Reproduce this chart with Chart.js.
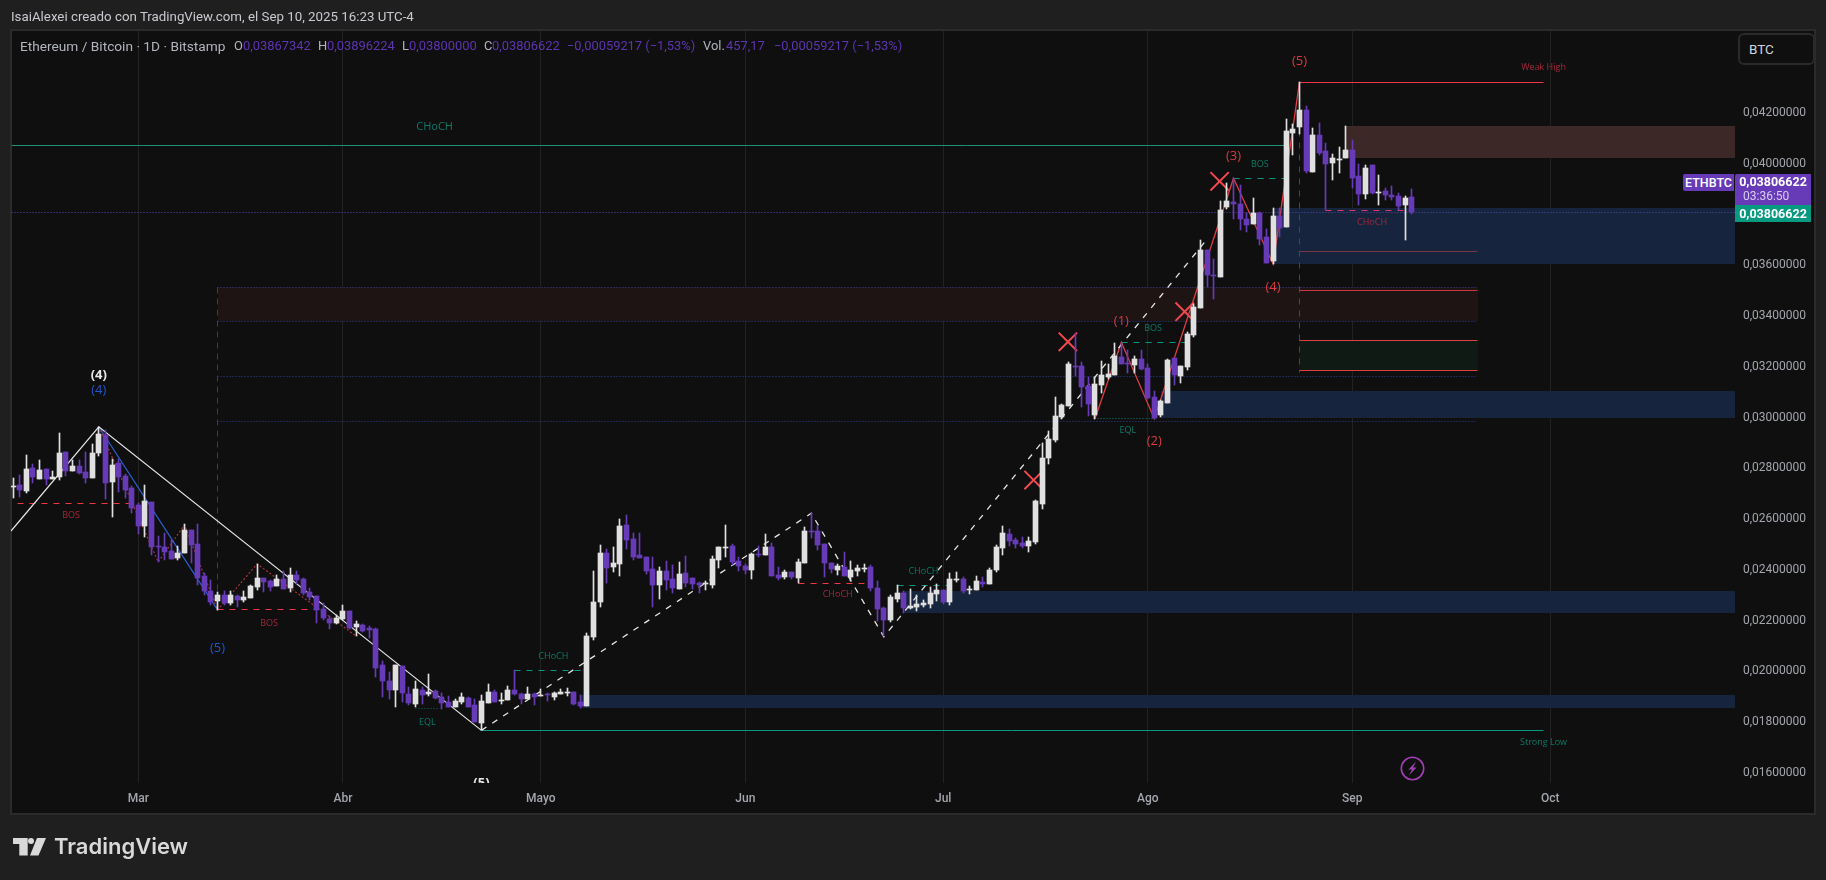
<!doctype html>
<html>
<head>
<meta charset="utf-8">
<title>ETHBTC</title>
<script src="https://cdn.jsdelivr.net/npm/chart.js@4/dist/chart.umd.min.js"></script>
<style>
  html,body{ margin:0; padding:0; width:1826px; height:880px; overflow:hidden; background:#1f1f1f; font-family:"Open Sans",sans-serif }
  #frame{ position:absolute; left:10px; top:29px; width:1802px; height:782px; background:#0f0f0f; border:2px solid #2b2b2b }
  #chartWrap{ position:absolute; left:0; top:0; width:1826px; height:880px }
  .t{ position:absolute; white-space:nowrap; line-height:1 }
  .lg{ top:40px; font-size:12.9px; color:#b2b5be; font-family:"Roboto",sans-serif }
  .v{ color:#5e35b1 }
  .tag{ position:absolute; color:#fff; font-family:"Roboto",sans-serif; font-size:12.5px; font-weight:700; text-align:center }
  #btc{ position:absolute; left:1738px; top:33px; width:73px; height:28px; background:#0f0f0f; border:2px solid #2a2a2a; border-radius:6px;
        color:#d1d4dc; font-size:13.5px; line-height:28px; text-indent:9px; font-family:"Roboto",sans-serif }
</style>
</head>
<body>
<div id="frame"></div>
<div id="chartWrap"><canvas id="chart" width="1826" height="880"></canvas></div>

<div class="t" style="left:11px;top:10px;font-size:13.3px;color:#c8cad0;font-family:Roboto,sans-serif">IsaiAlexei creado con TradingView.com, el Sep 10, 2025 16:23 UTC-4</div>

<div class="t lg" style="left:20px;font-size:13.7px">Ethereum / Bitcoin · 1D · Bitstamp</div>
<div class="t lg" style="left:234px">O</div><div class="t lg v" style="left:243px">0,03867342</div>
<div class="t lg" style="left:318px">H</div><div class="t lg v" style="left:327px">0,03896224</div>
<div class="t lg" style="left:402px">L</div><div class="t lg v" style="left:409px">0,03800000</div>
<div class="t lg" style="left:484px">C</div><div class="t lg v" style="left:492px">0,03806622</div>
<div class="t lg v" style="left:567px">−0,00059217 (−1,53%)</div>
<div class="t lg" style="left:703px">Vol.</div><div class="t lg v" style="left:726px">457,17</div>
<div class="t lg v" style="left:774px">−0,00059217 (−1,53%)</div>

<div id="btc">BTC</div>

<div class="tag" style="left:1683px;top:174px;width:51px;height:17px;line-height:17px;background:#673ab7;border-radius:2px 0 0 2px;font-weight:500">ETHBTC</div>
<div class="tag" style="left:1735px;top:174px;width:76px;height:31px;background:#673ab7;border-radius:2px 0 0 0">
  <div style="line-height:15px">0,03806622</div>
  <div style="line-height:14px;font-weight:400;color:#d9cdf0;font-size:12px;text-align:left;padding-left:8px">03:36:50</div>
</div>
<div class="tag" style="left:1735px;top:205px;width:76px;height:17px;line-height:17px;background:#089981">0,03806622</div>

<svg style="position:absolute;left:1399px;top:755px" width="27" height="27" viewBox="0 0 27 27">
  <circle cx="13.5" cy="13.5" r="11.2" fill="none" stroke="#a13fb5" stroke-width="1.6"/>
  <path d="M17 6.5 L9.5 14.5 L13 14.5 L10 20.5 L17.5 12.5 L14 12.5 Z" fill="#a13fb5"/>
</svg>

<svg style="position:absolute;left:13px;top:838px" width="34" height="18" viewBox="0 0 34 18">
  <path d="M0 0 H14.7 V17.5 H6.3 V6 H0 Z" fill="#d9d9d9"/>
  <circle cx="18" cy="3" r="3" fill="#d9d9d9"/>
  <path d="M24 0 H33 L25.5 17.5 H17 Z" fill="#d9d9d9"/>
</svg>
<div class="t" style="left:54px;top:835px;font-family:Inter,sans-serif;font-size:22px;font-weight:600;color:#d9d9d9">TradingView</div>

<script>
/* ETHBTC daily candles with structure drawings.
   x axis is "days since Mar 1, 2025", candles start on day -19 */

const firstDay = -19;

const opens = [
  0.02724,0.02730,0.02708,0.02798,0.02754,0.02794,0.02754,0.02762,0.02861,0.02786,
  0.02805,0.02782,0.02758,0.02857,0.02928,0.02742,0.02817,0.02766,0.02719,0.02652,
  0.02569,0.02663,0.02490,0.02486,0.02470,0.02443,0.02462,0.02553,0.02498,0.02372,
  0.02313,0.02273,0.02297,0.02265,0.02293,0.02277,0.02285,0.02328,0.02364,0.02352,
  0.02332,0.02360,0.02324,0.02376,0.02360,0.02308,0.02293,0.02242,0.02202,0.02186,
  0.02202,0.02234,0.02170,0.02178,0.02167,0.02163,0.02021,0.01958,0.01922,0.02017,
  0.01906,0.01867,0.01922,0.01906,0.01918,0.01895,0.01875,0.01855,0.01875,0.01891,
  0.01863,0.01792,0.01871,0.01914,0.01879,0.01883,0.01922,0.01906,0.01887,0.01906,
  0.01900,0.01905,0.01895,0.01906,0.01910,0.01914,0.01875,0.01859,0.02131,0.02269,
  0.02462,0.02407,0.02419,0.02573,0.02518,0.02455,0.02447,0.02399,0.02336,0.02391,
  0.02360,0.02320,0.02384,0.02364,0.02344,0.02340,0.02336,0.02435,0.02482,0.02490,
  0.02431,0.02411,0.02395,0.02458,0.02455,0.02486,0.02376,0.02368,0.02388,0.02364,
  0.02423,0.02549,0.02549,0.02498,0.02423,0.02395,0.02407,0.02368,0.02391,0.02399,
  0.02407,0.02324,0.02246,0.02198,0.02281,0.02305,0.02246,0.02250,0.02257,0.02261,
  0.02301,0.02316,0.02269,0.02356,0.02360,0.02316,0.02316,0.02348,0.02340,0.02395,
  0.02482,0.02537,0.02514,0.02502,0.02490,0.02506,0.02656,0.02837,0.02908,0.02999,
  0.03042,0.03200,0.03200,0.03121,0.03006,0.03125,0.03156,0.03164,0.03235,0.03211,
  0.03204,0.03227,0.03192,0.03077,0.03006,0.03054,0.03231,0.03160,0.03196,0.03322,
  0.03428,0.03657,0.03559,0.03551,0.03827,0.03846,0.03838,0.03779,0.03760,0.03803,
  0.03708,0.03614,0.03791,0.03748,0.04118,0.04142,0.04209,0.03965,0.04111,0.04047,
  0.04000,0.04012,0.04020,0.04051,0.03949,0.03878,0.03992,0.03882,0.03890,0.03874,
  0.03870,0.03835,0.03867342
];
const highs = [
  0.02757,0.02770,0.02849,0.02813,0.02829,0.02794,0.02786,0.02934,0.02861,0.02829,
  0.02829,0.02861,0.02892,0.02960,0.02947,0.02833,0.02833,0.02774,0.02727,0.02658,
  0.02730,0.02663,0.02529,0.02541,0.02514,0.02490,0.02577,0.02553,0.02577,0.02382,
  0.02356,0.02307,0.02313,0.02313,0.02297,0.02313,0.02336,0.02419,0.02364,0.02356,
  0.02376,0.02391,0.02403,0.02391,0.02364,0.02324,0.02293,0.02264,0.02214,0.02218,
  0.02257,0.02234,0.02194,0.02182,0.02174,0.02167,0.02036,0.01993,0.02021,0.02017,
  0.01934,0.01958,0.01934,0.01985,0.01922,0.01910,0.01898,0.01887,0.01910,0.01895,
  0.01887,0.01902,0.01946,0.01922,0.01910,0.01938,0.02001,0.01910,0.01934,0.01910,
  0.01926,0.01910,0.01914,0.01926,0.01930,0.01914,0.01902,0.02147,0.02391,0.02494,
  0.02478,0.02486,0.02596,0.02612,0.02541,0.02541,0.02447,0.02447,0.02407,0.02431,
  0.02415,0.02427,0.02451,0.02364,0.02348,0.02352,0.02451,0.02486,0.02573,0.02498,
  0.02447,0.02419,0.02462,0.02490,0.02537,0.02502,0.02407,0.02395,0.02388,0.02439,
  0.02565,0.02620,0.02569,0.02498,0.02423,0.02419,0.02466,0.02431,0.02415,0.02419,
  0.02415,0.02352,0.02250,0.02297,0.02336,0.02313,0.02320,0.02297,0.02277,0.02328,
  0.02340,0.02316,0.02383,0.02387,0.02368,0.02332,0.02372,0.02368,0.02403,0.02494,
  0.02569,0.02557,0.02521,0.02525,0.02525,0.02671,0.02896,0.02943,0.03077,0.03050,
  0.03215,0.03328,0.03215,0.03156,0.03156,0.03219,0.03207,0.03290,0.03290,0.03263,
  0.03239,0.03263,0.03207,0.03101,0.03066,0.03227,0.03231,0.03200,0.03334,0.03444,
  0.03697,0.03657,0.03622,0.03850,0.03920,0.03941,0.03913,0.03803,0.03862,0.03807,
  0.03740,0.03823,0.03823,0.04174,0.04154,0.04320,0.04225,0.04138,0.04158,0.04079,
  0.04036,0.04063,0.04146,0.04091,0.03996,0.03992,0.03992,0.03953,0.03902,0.03909,
  0.03882,0.03870,0.03896224
];
const lows = [
  0.02681,0.02684,0.02698,0.02740,0.02754,0.02732,0.02754,0.02750,0.02766,0.02786,
  0.02774,0.02740,0.02758,0.02845,0.02675,0.02606,0.02703,0.02679,0.02620,0.02537,
  0.02525,0.02454,0.02427,0.02435,0.02439,0.02435,0.02462,0.02423,0.02336,0.02297,
  0.02257,0.02238,0.02257,0.02257,0.02249,0.02269,0.02285,0.02316,0.02308,0.02313,
  0.02332,0.02319,0.02308,0.02340,0.02297,0.02277,0.02186,0.02198,0.02163,0.02182,
  0.02198,0.02163,0.02135,0.02151,0.02127,0.01973,0.01894,0.01887,0.01855,0.01875,
  0.01863,0.01855,0.01867,0.01898,0.01887,0.01847,0.01855,0.01855,0.01867,0.01855,
  0.01796,0.01764,0.01871,0.01875,0.01867,0.01883,0.01902,0.01867,0.01887,0.01863,
  0.01898,0.01879,0.01883,0.01906,0.01898,0.01863,0.01851,0.01859,0.02119,0.02249,
  0.02344,0.02387,0.02372,0.02478,0.02435,0.02443,0.02380,0.02250,0.02281,0.02317,
  0.02305,0.02320,0.02328,0.02320,0.02305,0.02317,0.02324,0.02403,0.02447,0.02415,
  0.02391,0.02380,0.02360,0.02447,0.02455,0.02372,0.02356,0.02360,0.02360,0.02344,
  0.02423,0.02522,0.02474,0.02368,0.02384,0.02376,0.02372,0.02352,0.02372,0.02387,
  0.02312,0.02194,0.02135,0.02190,0.02269,0.02225,0.02242,0.02234,0.02250,0.02246,
  0.02273,0.02261,0.02257,0.02348,0.02303,0.02301,0.02316,0.02328,0.02340,0.02387,
  0.02454,0.02490,0.02482,0.02482,0.02466,0.02498,0.02636,0.02813,0.02900,0.02990,
  0.03042,0.03160,0.03039,0.03003,0.02991,0.03093,0.03148,0.03164,0.03207,0.03172,
  0.03172,0.03184,0.03070,0.02991,0.02999,0.03054,0.03125,0.03133,0.03184,0.03314,
  0.03427,0.03510,0.03465,0.03551,0.03819,0.03779,0.03736,0.03728,0.03760,0.03677,
  0.03606,0.03602,0.03708,0.03748,0.04032,0.04115,0.03961,0.03965,0.04032,0.03815,
  0.03933,0.03961,0.04020,0.03902,0.03835,0.03858,0.03876,0.03835,0.03854,0.03854,
  0.03815,0.03697,0.03800000
];
const closes = [
  0.02727,0.02711,0.02794,0.02762,0.02790,0.02754,0.02762,0.02857,0.02786,0.02805,
  0.02778,0.02758,0.02857,0.02932,0.02738,0.02809,0.02762,0.02711,0.02640,0.02569,
  0.02667,0.02486,0.02486,0.02466,0.02439,0.02462,0.02553,0.02494,0.02364,0.02313,
  0.02269,0.02297,0.02265,0.02297,0.02277,0.02289,0.02332,0.02364,0.02348,0.02328,
  0.02360,0.02320,0.02376,0.02356,0.02305,0.02289,0.02238,0.02206,0.02186,0.02206,
  0.02234,0.02167,0.02182,0.02155,0.02159,0.02009,0.01958,0.01922,0.02021,0.01910,
  0.01871,0.01926,0.01902,0.01914,0.01891,0.01871,0.01855,0.01879,0.01895,0.01855,
  0.01796,0.01879,0.01914,0.01875,0.01883,0.01922,0.01906,0.01887,0.01906,0.01895,
  0.01902,0.01901,0.01910,0.01914,0.01914,0.01867,0.01859,0.02135,0.02269,0.02462,
  0.02403,0.02423,0.02569,0.02514,0.02447,0.02443,0.02391,0.02336,0.02391,0.02356,
  0.02324,0.02380,0.02344,0.02340,0.02336,0.02344,0.02439,0.02486,0.02486,0.02427,
  0.02411,0.02395,0.02458,0.02455,0.02486,0.02372,0.02364,0.02388,0.02368,0.02427,
  0.02549,0.02545,0.02494,0.02423,0.02399,0.02411,0.02372,0.02395,0.02403,0.02403,
  0.02324,0.02242,0.02198,0.02289,0.02305,0.02246,0.02253,0.02261,0.02265,0.02305,
  0.02316,0.02269,0.02360,0.02360,0.02313,0.02320,0.02352,0.02340,0.02395,0.02486,
  0.02541,0.02510,0.02498,0.02490,0.02510,0.02667,0.02837,0.02912,0.03003,0.03046,
  0.03208,0.03196,0.03117,0.03050,0.03129,0.03164,0.03168,0.03239,0.03207,0.03207,
  0.03227,0.03188,0.03073,0.02995,0.03062,0.03223,0.03164,0.03200,0.03326,0.03432,
  0.03657,0.03559,0.03555,0.03815,0.03850,0.03838,0.03779,0.03756,0.03803,0.03700,
  0.03606,0.03791,0.03744,0.04126,0.04134,0.04209,0.03969,0.04111,0.04040,0.03996,
  0.04020,0.04016,0.04051,0.03941,0.03878,0.03980,0.03882,0.03886,0.03874,0.03866,
  0.03831,0.03862,0.03806622
];

// axes
const monthDays = [0, 31, 61, 92, 122, 153, 184, 214];
const monthNames = ["Mar", "Abr", "Mayo", "Jun", "Jul", "Ago", "Sep", "Oct"];
const priceTicks = [0.016, 0.018, 0.02, 0.022, 0.024, 0.026, 0.028, 0.03, 0.032, 0.034, 0.036, 0.038, 0.04, 0.042];
const dayMin = -19.31, dayMax = 242.02;
const priceMin = 0.015554, priceMax = 0.045206;

// zones: start day, end day, low, high
const blueZoneStart = [172, 155, 116, 67];
const blueZoneLow = [0.03602, 0.02996, 0.02227, 0.01852];
const blueZoneHigh = [0.03823, 0.03101, 0.02312, 0.01902];
const supplyZone = [183, dayMax, 0.04021, 0.04146];
const maroonZone = [12, 203, 0.03376, 0.03510];
const greenZone = [176, 203, 0.03183, 0.03301];

// structure lines
const whiteWaveDays = [dayMin, -6, 52];
const whiteWavePrices = [0.02549, 0.02960, 0.01763];
const blueWaveDays = [-6, 12];
const blueWavePrices = [0.02960, 0.02238];
const dashedWaveDays = [52, 102, 113, 162];
const dashedWavePrices = [0.01763, 0.02619, 0.02132, 0.03700];
const redWaveDays = [145, 149, 154, 166, 172, 176];
const redWavePrices = [0.02992, 0.03293, 0.02992, 0.03940, 0.03602, 0.04318];
const dottedWaveDays = [-6, 3, 7, 12, 18, 33];
const dottedWavePrices = [0.02960, 0.02427, 0.02573, 0.02238, 0.02419, 0.02135];
const blueDottedPrices = [0.03510, 0.03376, 0.03159, 0.02982];
const crossDays = [140.9, 158.6, 135.7, 163.9];
const crossPrices = [0.03295, 0.03414, 0.02750, 0.03928];

// labels
const tealTexts = ["CHoCH", "BOS", "BOS", "EQL", "EQL", "CHoCH", "CHoCH", "Strong Low"];
const tealDays = [44.9, 170, 153.8, 150, 43.8, 62.9, 119, 213];
const tealPrices = [0.04142, 0.03996, 0.03348, 0.02947, 0.01796, 0.02056, 0.02391, 0.01717];
const redTexts = ["BOS", "BOS", "CHoCH", "CHoCH", "Weak High"];
const redDays = [-10.2, 19.8, 106, 187, 213];
const redPrices = [0.02612, 0.02186, 0.02297, 0.03766, 0.04375];
const waveTexts = ["(1)", "(2)", "(3)", "(4)", "(5)"];
const waveDays = [149, 154, 166, 172, 176];
const wavePrices = [0.03377, 0.02904, 0.04025, 0.03511, 0.04402];

const WHITE = "#e0e0e0";
const PURPLE = "#673ab7";
const TEAL = "#089981";
const RED = "#f23645";

const candleColors = opens.map((o, i) => closes[i] >= o ? WHITE : PURPLE);

function lineDs(days, prices, color, extra) {
  return Object.assign({
    type: "line",
    data: days.map((d, i) => ({ x: d, y: prices[i] })),
    borderColor: color,
    borderWidth: 1,
    pointRadius: 0,
    fill: false,
    tension: 0,
    order: 5
  }, extra);
}

// flat helper for the one-level horizontal drawings
function hLine(fromDay, toDay, price, color, extra) {
  return lineDs([fromDay, toDay], [price, price], color, Object.assign({ crisp: true }, extra));
}

const DOT = { borderDash: [1, 2] };
const DASH = { borderDash: [6, 6] };
const BLUE_DOT = "#2f3f98";

const datasets = [
  // candles, lowest order is drawn last
  {
    type: "bar",
    data: opens.map((_, i) => ({ x: firstDay + i, y: [lows[i], highs[i]] })),
    backgroundColor: candleColors,
    barThickness: 1,
    grouped: false,
    order: 1
  },
  {
    type: "bar",
    data: opens.map((o, i) => ({ x: firstDay + i, y: [o, closes[i]] })),
    backgroundColor: candleColors,
    barThickness: 5,
    grouped: false,
    order: 0
  },
  lineDs(whiteWaveDays, whiteWavePrices, "#e6e6e6", { borderWidth: 1.2 }),
  lineDs(blueWaveDays, blueWavePrices, "#2a62d8", { borderWidth: 1.2 }),
  lineDs(dashedWaveDays, dashedWavePrices, "#e6e6e6", { borderDash: [6, 7], borderWidth: 1.3 }),
  lineDs(redWaveDays, redWavePrices, "#e03e44", { borderWidth: 1.3 }),
  lineDs(dottedWaveDays, dottedWavePrices, "#a8343b", { borderDash: [2, 2], borderWidth: 1.2 }),

  lineDs(crossDays, crossPrices, "#f2484f", {
    showLine: false, pointStyle: "crossRot", pointRadius: 13,
    pointBorderColor: "#f2484f", pointBorderWidth: 2, order: 4
  }),

  // last price
  hLine(dayMin, dayMax, 0.03806622, "#5b45b5", DOT),
  // CHoCH level on the top left
  hLine(dayMin, 173.7, 0.04070, "#1f8f7c"),
  // weak high / strong low
  hLine(176, 213, 0.04318, RED),
  hLine(52, 213, 0.01763, TEAL),
  // wave 5 box
  hLine(176, 203, 0.03652, "#7a3545"),
  hLine(176, 203, 0.03498, "#c9383e"),
  hLine(176, 203, 0.03301, "#e0403f"),
  hLine(176, 203, 0.03183, "#e0403f"),
  lineDs([176, 176], [0.04318, 0.03176], "#7a2f3a", { borderDash: [6, 6], crisp: true }),
  // fib box with dotted levels
  ...blueDottedPrices.map(p => hLine(12, 203, p, BLUE_DOT, DOT)),
  lineDs([12, 12], [0.03510, 0.02238], "#24407f", { borderDash: [6, 5], crisp: true }),
  // BOS / CHoCH / EQL breaks
  hLine(-18.4, -1.4, 0.02658, RED, DASH),
  hLine(12, 27, 0.02238, RED, DASH),
  hLine(100, 110, 0.02343, RED, DASH),
  hLine(180, 192, 0.03814, "#e0356a", DASH),
  hLine(57, 67, 0.02000, TEAL, DASH),
  hLine(115, 122.8, 0.02335, TEAL, DASH),
  hLine(149, 158.7, 0.03293, TEAL, DASH),
  hLine(166, 173.7, 0.03940, TEAL, DASH),
  hLine(42, 45.7, 0.01851, "#0b6b5b", DOT),
  hLine(145, 154, 0.02992, "#0b7f6b", DOT)
];

// snap marks to whole pixels so candles and levels stay sharp
const snapPlugin = {
  id: "snap",
  afterDatasetsUpdate(chart) {
    chart.data.datasets.forEach((ds, i) => {
      const meta = chart.getDatasetMeta(i);
      meta.data.forEach(el => {
        if (ds.type === "bar") {
          el.x = Math.floor(el.x) + 0.5;
          el.y = Math.round(el.y);
          el.base = Math.round(el.base);
          if (el.y === el.base) el.base = el.y + 1;
        } else if (ds.crisp) {
          el.x = Math.floor(el.x) + 0.5;
          el.y = Math.floor(el.y) + 0.5;
        }
      });
    });
  },
  // price labels sit a pixel under their level in the original
  beforeDraw(chart) {
    if (chart.$labelsMoved) return;
    chart.scales.y.getLabelItems().forEach(it => { it.options.translation[1] += 1; });
    chart.$labelsMoved = true;
  }
};

const zonePlugin = {
  id: "zones",
  beforeDatasetsDraw(chart) {
    const { ctx, scales: { x, y } } = chart;
    const box = (from, to, low, high, color) => {
      const l = Math.round(x.getPixelForValue(from)), r = Math.round(x.getPixelForValue(to));
      const t = Math.round(y.getPixelForValue(high)), b = Math.round(y.getPixelForValue(low));
      ctx.fillStyle = color;
      ctx.fillRect(l, t, r - l, b - t);
    };
    blueZoneStart.forEach((s, i) => box(s, dayMax, blueZoneLow[i], blueZoneHigh[i], "#17243d"));
    box(supplyZone[0], supplyZone[1], supplyZone[2], supplyZone[3], "#3d2828");
    box(maroonZone[0], maroonZone[1], maroonZone[2], maroonZone[3], "#1f1414");
    box(greenZone[0], greenZone[1], greenZone[2], greenZone[3], "#0f1a14");
  }
};

const labelPlugin = {
  id: "labels",
  afterDatasetsDraw(chart) {
    const { ctx, chartArea: a, scales: { x, y } } = chart;
    ctx.save();
    ctx.beginPath();
    ctx.rect(a.left, a.top, a.right - a.left, a.bottom - a.top);
    ctx.clip();
    ctx.textAlign = "center";
    ctx.textBaseline = "middle";
    const put = (txt, day, price, color, font) => {
      ctx.fillStyle = color;
      ctx.font = font;
      ctx.fillText(txt, x.getPixelForValue(day), y.getPixelForValue(price));
    };
    const small = "9px 'Open Sans', sans-serif";
    tealTexts.forEach((t, i) => put(t, tealDays[i], tealPrices[i], "#0b7a66", i === 0 ? "11px 'Open Sans', sans-serif" : small));
    redTexts.forEach((t, i) => put(t, redDays[i], redPrices[i], "#a5263a", small));
    const waves = "13px 'Open Sans', sans-serif";
    waveTexts.forEach((t, i) => put(t, waveDays[i], wavePrices[i], "#d93a40", waves));
    put("(4)", -6, 0.03164, "#e8e8e8", "bold 13px 'Open Sans', sans-serif");
    put("(4)", -6, 0.03102, "#2255cc", waves);
    put("(5)", 12, 0.02088, "#2255cc", waves);
    put("(5)", 52, 0.01556, "#e8e8e8", "bold 13px 'Open Sans', sans-serif");
    ctx.restore();
  }
};

new Chart(document.getElementById("chart").getContext("2d"), {
  type: "bar",
  data: { datasets },
  plugins: [snapPlugin, zonePlugin, labelPlugin],
  options: {
    responsive: false,
    animation: false,
    events: [],
    layout: { autoPadding: false, padding: { left: 11, top: 31, right: 0, bottom: 0 } },
    plugins: { legend: { display: false }, tooltip: { enabled: false } },
    scales: {
      x: {
        type: "linear",
        offset: false,
        min: dayMin,
        max: dayMax,
        afterFit(s) { s.height = 97; },
        afterBuildTicks(s) { s.ticks = monthDays.map(d => ({ value: d })); },
        grid: { offset: false, color: "#222222", drawTicks: false },
        border: { display: false },
        ticks: {
          autoSkip: false, maxRotation: 0, padding: 9,
          color: "#a3a6ad",
          font: { family: "Roboto", size: 12, weight: "500" },
          callback: v => monthNames[monthDays.indexOf(v)]
        }
      },
      y: {
        type: "linear",
        position: "right",
        min: priceMin,
        max: priceMax,
        afterFit(s) { s.width = 91; },
        afterBuildTicks(s) { s.ticks = priceTicks.map(v => ({ value: v })); },
        grid: { display: false, drawTicks: false },
        border: { display: false },
        ticks: {
          autoSkip: false, padding: 8,
          color: "#a3a6ad",
          font: { family: "Roboto", size: 12 },
          callback: v => v.toFixed(8).replace(".", ",")
        }
      }
    }
  }
});
</script>
</body>
</html>
